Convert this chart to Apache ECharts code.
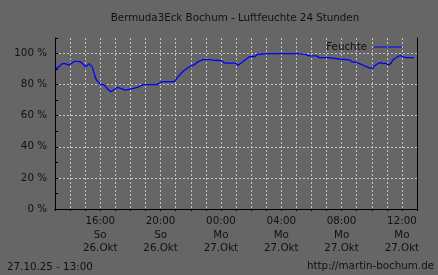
<!DOCTYPE html>
<html>
<head>
<meta charset="utf-8">
<script src="https://cdn.jsdelivr.net/npm/echarts@6/dist/echarts.min.js"></script>
<style>
html,body{margin:0;padding:0;background:#666666;}
#c{width:438px;height:275px;}
</style>
</head>
<body>
<div id="c"></div>
<script>
const titleText = 'Bermuda3Eck Bochum - Luftfeuchte 24 Stunden';
const seriesName = 'Feuchte';
const footerLeft = '27.10.25 - 13:00';
const footerRight = 'http://martin-bochum.de';
const weekdays = ['So','Mo','Di','Mi','Do','Fr','Sa'];
const monthName = 'Okt';
const yTicks = [0, 20, 40, 60, 80, 100];
const rangeStart = '2025-10-26 13:00';
const rangeEnd = '2025-10-27 13:00';

const times = [
 '2025-10-26 13:00','2025-10-26 13:04','2025-10-26 13:16','2025-10-26 13:29','2025-10-26 13:40','2025-10-26 13:47','2025-10-26 13:56',
 '2025-10-26 14:05','2025-10-26 14:18','2025-10-26 14:29','2025-10-26 14:42','2025-10-26 14:51','2025-10-26 14:58',
 '2025-10-26 15:03','2025-10-26 15:09','2025-10-26 15:15','2025-10-26 15:22','2025-10-26 15:28','2025-10-26 15:35','2025-10-26 15:42','2025-10-26 15:48','2025-10-26 15:55',
 '2025-10-26 16:02','2025-10-26 16:15','2025-10-26 16:22','2025-10-26 16:28','2025-10-26 16:32','2025-10-26 16:42','2025-10-26 16:48','2025-10-26 16:58',
 '2025-10-26 17:08','2025-10-26 17:15','2025-10-26 17:21','2025-10-26 17:28','2025-10-26 17:40','2025-10-26 17:54',
 '2025-10-26 18:12','2025-10-26 18:29','2025-10-26 18:38','2025-10-26 18:51','2025-10-26 19:45','2025-10-26 19:51',
 '2025-10-26 20:07','2025-10-26 20:55','2025-10-26 21:11','2025-10-26 21:31','2025-10-26 21:50',
 '2025-10-26 22:10','2025-10-26 22:21','2025-10-26 22:30','2025-10-26 22:50','2025-10-26 23:17','2025-10-26 23:30',
 '2025-10-27 00:01','2025-10-27 00:10','2025-10-27 00:23','2025-10-27 00:30','2025-10-27 00:43','2025-10-27 00:59',
 '2025-10-27 01:09','2025-10-27 01:23','2025-10-27 01:36','2025-10-27 01:52','2025-10-27 02:00','2025-10-27 02:16','2025-10-27 02:23','2025-10-27 02:42',
 '2025-10-27 03:16','2025-10-27 05:02','2025-10-27 05:08','2025-10-27 05:35','2025-10-27 05:42','2025-10-27 05:51',
 '2025-10-27 06:21','2025-10-27 06:30','2025-10-27 07:05','2025-10-27 07:10','2025-10-27 07:50','2025-10-27 07:54',
 '2025-10-27 08:31','2025-10-27 08:41','2025-10-27 08:54','2025-10-27 09:14','2025-10-27 09:33','2025-10-27 09:47',
 '2025-10-27 10:03','2025-10-27 10:11','2025-10-27 10:23','2025-10-27 10:37','2025-10-27 10:46','2025-10-27 10:57',
 '2025-10-27 11:06','2025-10-27 11:16','2025-10-27 11:24','2025-10-27 11:33','2025-10-27 11:46','2025-10-27 11:57',
 '2025-10-27 12:06','2025-10-27 12:17','2025-10-27 12:23','2025-10-27 12:33','2025-10-27 12:48'
];
const humidity = [
 90.0,90.3,91.6,93.5,93.5,92.6,92.6,
 93.7,95.0,95.0,94.6,93.3,93.3,
 91.4,91.9,93.5,93.1,91.4,87.7,83.9,82.3,81.3,
 80.0,80.0,78.5,78.0,76.8,75.5,75.7,77.0,
 78.3,77.6,77.6,76.8,76.5,77.0,
 77.6,78.3,79.1,80.0,80.0,81.0,
 81.9,81.9,85.5,88.8,91.0,
 92.5,93.7,94.8,96.1,96.1,95.7,
 95.5,94.2,93.8,94.2,93.8,93.8,
 92.5,94.2,95.9,97.8,98.1,98.1,99.4,99.7,
 100.0,100.0,99.4,99.4,99.8,98.5,
 98.5,97.4,97.4,96.5,96.5,95.9,
 95.9,94.8,94.4,93.3,92.0,91.0,
 90.5,92.0,93.5,94.2,93.5,93.8,
 92.6,93.7,95.9,97.0,98.3,98.7,
 97.8,97.4,98.0,97.4,97.4
];

function parseT(s){
  const [d,t] = s.split(' ');
  const [Y,M,D] = d.split('-').map(Number);
  const [h,m] = t.split(':').map(Number);
  return new Date(Y, M-1, D, h, m).getTime();
}
const data = times.map((t,i)=>[parseT(t), humidity[i]]);
const xMin = parseT(rangeStart), xMax = parseT(rangeEnd);
const FONT = 'DejaVu Sans';
const TXT = '#111111';
const GRID = '#c4c4c4';
const pad = n => (n<10?'0':'')+n;

const chart = echarts.init(document.getElementById('c'), null, {renderer:'canvas'});
const xCommon = {
  type:'time', min:xMin, max:xMax, splitNumber:12,
  minInterval:2*3600*1000, maxInterval:2*3600*1000,
};
chart.setOption({
  backgroundColor:'#666666',
  animation:false,
  grid:{left:55, top:38, right:21, bottom:66, containLabel:false},
  legend:{
    data:[{name:seriesName, icon:'rect'}],
    right:31, top:37, align:'right',
    itemWidth:28, itemHeight:1,
    textStyle:{fontFamily:FONT, fontSize:10.3, color:TXT, padding:[0,2,0,0]}
  },
  graphic:[
    {type:'text', x:235, y:18, style:{text:titleText, font:'10.3px "DejaVu Sans"', fill:TXT, align:'center', verticalAlign:'middle', textAlign:'center', textVerticalAlign:'middle'}},
    {type:'text', x:7, y:267, style:{text:footerLeft, font:'10.3px "DejaVu Sans"', fill:TXT, align:'left', verticalAlign:'middle', textAlign:'left', textVerticalAlign:'middle'}},
    {type:'text', x:434, y:266, style:{text:footerRight, font:'10.3px "DejaVu Sans"', fill:TXT, align:'right', verticalAlign:'middle', textAlign:'right', textVerticalAlign:'middle'}}
  ],
  xAxis:[
    Object.assign({}, xCommon, {
      position:'bottom',
      axisLine:{show:true, lineStyle:{color:'#000', width:1}},
      axisTick:{show:false},
      splitLine:{show:true, lineStyle:{color:GRID, type:[2,2], width:1}},
      axisLabel:{
        show:true, margin:6, color:TXT, fontFamily:FONT, fontSize:10.3, lineHeight:13.3,
        hideOverlap:false, showMinLabel:false, showMaxLabel:false,
        formatter:function(v){
          const d = new Date(v);
          if (d.getMinutes()!==0 || d.getHours()%4!==0) return '';
          return pad(d.getHours())+':00\n'+weekdays[d.getDay()]+'\n'+d.getDate()+'.'+monthName;
        }
      }
    }),
    Object.assign({}, xCommon, {
      position:'top', z:5,
      axisLine:{show:true, lineStyle:{color:'#000', width:1}},
      axisTick:{show:true, inside:true, length:2, lineStyle:{color:'#000'}},
      splitLine:{show:false},
      axisLabel:{show:false}
    })
  ],
  yAxis:[
    {
      type:'value', min:yTicks[0], max:110, interval:yTicks[1]-yTicks[0],
      axisLine:{show:true, lineStyle:{color:'#000', width:1}},
      axisTick:{show:false},
      splitLine:{show:true, showMaxLine:false, lineStyle:{color:GRID, type:[2,2], width:1}},
      axisLabel:{
        margin:8, color:TXT, fontFamily:FONT, fontSize:10.3,
        formatter:function(v){ return yTicks.indexOf(v)>=0 ? v+' %' : ''; }
      }
    },
    {
      type:'value', min:0, max:110, position:'right', z:5,
      axisLine:{show:true, lineStyle:{color:'#000', width:1}},
      axisTick:{show:false}, axisLabel:{show:false}, splitLine:{show:false}
    },
    {
      type:'value', min:0, max:110, interval:10, position:'left', offset:0, z:5,
      axisLine:{show:false},
      axisTick:{show:true, inside:true, length:3, lineStyle:{color:'#000'}},
      axisLabel:{show:false}, splitLine:{show:false}
    }
  ],
  series:[{
    name:seriesName, type:'line', data:data,
    xAxisIndex:0, yAxisIndex:0,
    showSymbol:false, symbol:'none', smooth:false,
    lineStyle:{color:'#0000ff', width:1.3},
    itemStyle:{color:'#0000ff'},
    z:3
  }]
});
</script>
</body>
</html>
